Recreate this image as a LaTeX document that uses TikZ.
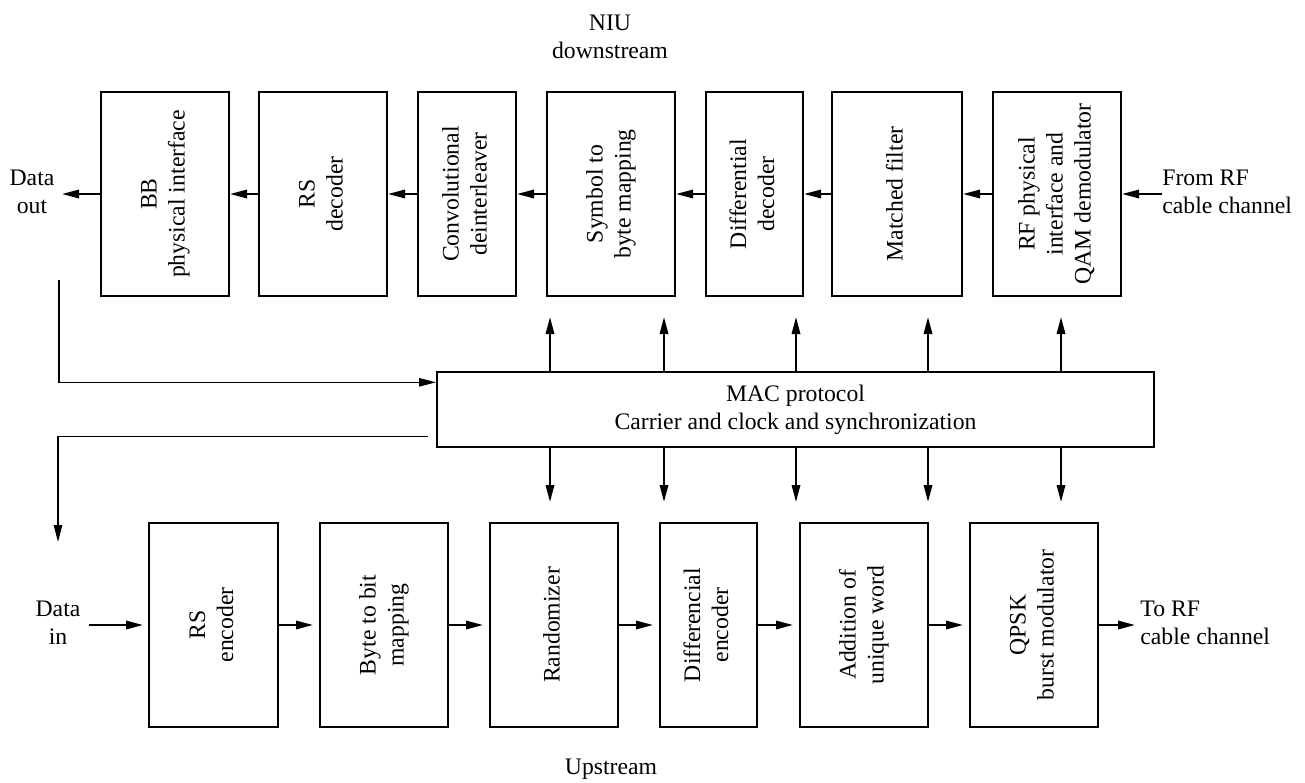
\documentclass[tikz,border=0pt]{standalone}
\usepackage{fontspec}
\usepackage{graphicx}
\setmainfont{Liberation Serif}
\usetikzlibrary{arrows.meta,calc}

% vertical label inside a block: lines read from bottom to top
\newcommand{\vlab}[1]{\rotatebox{90}{\begin{tabular}{@{}c@{}}#1\end{tabular}}}

\begin{document}
\begin{tikzpicture}[x=0.5pt,y=-0.5pt,
  font=\fontsize{11.85}{14}\selectfont,
  blk/.style={draw,line width=1pt,inner sep=0pt,minimum height=102pt},
  macblk/.style={draw,line width=1pt,inner sep=0pt,minimum width=358.5pt,minimum height=37.5pt},
  arr/.style={line width=1pt,-{Triangle[length=8.5pt,width=4.2pt]}},
  farr/.style={line width=0.65pt,-{Triangle[length=8.5pt,width=4.2pt]}},
  fline/.style={line width=0.65pt},
  lbl/.style={inner sep=0pt,align=center}]
\useasboundingbox (0,0) rectangle (1305,782);

% downstream chain
\node[blk,minimum width=64pt]   (BB)  at (165,194)  {\vlab{BB\\physical interface}};
\node[blk,minimum width=64pt]   (RSd) at (323,194)  {\vlab{RS\\decoder}};
\node[blk,minimum width=49pt]   (CD)  at (467,194)  {\vlab{Convolutional\\deinterleaver}};
\node[blk,minimum width=64pt]   (SB)  at (611,194)  {\vlab{Symbol to\\byte mapping}};
\node[blk,minimum width=48.5pt] (DD)  at (754.5,194){\vlab{Differential\\decoder}};
\node[blk,minimum width=65pt]   (MF)  at (897,194)  {\vlab{Matched filter}};
\node[blk,minimum width=64pt]   (RF)  at (1057,194) {\vlab{RF physical\\interface and\\QAM demodulator}};

% upstream chain
\node[blk,minimum width=64.5pt] (RSe) at (213.5,625){\vlab{RS\\encoder}};
\node[blk,minimum width=64pt]   (BM)  at (384,625)  {\vlab{Byte to bit\\mapping}};
\node[blk,minimum width=64pt]   (RZ)  at (554,625)  {\vlab{Randomizer}};
\node[blk,minimum width=48.5pt] (DE)  at (708.5,625){\vlab{Differencial\\encoder}};
\node[blk,minimum width=64pt]   (AU)  at (864,625)  {\vlab{Addition of\\unique word}};
\node[blk,minimum width=64pt]   (QM)  at (1034,625) {\vlab{QPSK\\burst modulator}};

% MAC block
\node[macblk] (MAC) at (795.5,409.5) {};
\node[lbl] (MACt) at (MAC.center) {MAC protocol\\Carrier and clock and synchronization};

% titles and port labels
\node[lbl] (niu) at (610,37) {NIU\\downstream};
\node[lbl] (ups) at (611,769) {Upstream};
\node[lbl] (dout) at (32,192) {Data\\out};
\node[lbl,anchor=west,align=left] (frf) at (1162,192) {From RF\\cable channel};
\node[lbl] (dinl) at (58,623) {Data\\in};
\node[lbl,anchor=west,align=left] (trf) at (1140,623) {To RF\\cable channel};

% free ends of connectors
\coordinate (doutp) at (62,194);
\coordinate (frfp) at (1162,194);
\coordinate (dinp) at (89,625);
\coordinate (trfp) at (1135,625);

% downstream flow
\draw[arr] (frfp) -- (RF.east);
\draw[arr] (RF.west) -- (MF.east);
\draw[arr] (MF.west) -- (DD.east);
\draw[arr] (DD.west) -- (SB.east);
\draw[arr] (SB.west) -- (CD.east);
\draw[arr] (CD.west) -- (RSd.east);
\draw[arr] (RSd.west) -- (BB.east);
\draw[arr] (BB.west) -- (doutp);

% upstream flow
\draw[arr,shorten >=2.5pt] (dinp) -- (RSe.west);
\draw[arr,shorten >=3pt] (RSe.east) -- (BM.west);
\draw[arr,shorten >=3pt] (BM.east) -- (RZ.west);
\draw[arr,shorten >=3pt] (RZ.east) -- (DE.west);
\draw[arr,shorten >=3pt] (DE.east) -- (AU.west);
\draw[arr,shorten >=3pt] (AU.east) -- (QM.west);
\draw[arr] (QM.east) -- (trfp);

% control lines from the MAC block
\foreach \i/\x in {1/550,2/664,3/796,4/928,5/1061}{
  \coordinate (up\i) at (\x,317);
  \coordinate (dn\i) at (\x,502);
  \draw[arr] (MAC.north -| up\i) -- (up\i);
  \draw[arr] (MAC.south -| dn\i) -- (dn\i);
}

% loop lines on the left
\coordinate (lpA) at (59,280);
\coordinate (lpB) at (58,542);
\draw[farr] (lpA) |- ($(MAC.north west)!0.147!(MAC.south west)$);
\draw[farr] ([xshift=-4pt]$(MAC.north west)!0.853!(MAC.south west)$) -| (lpB);
\end{tikzpicture}
\end{document}
